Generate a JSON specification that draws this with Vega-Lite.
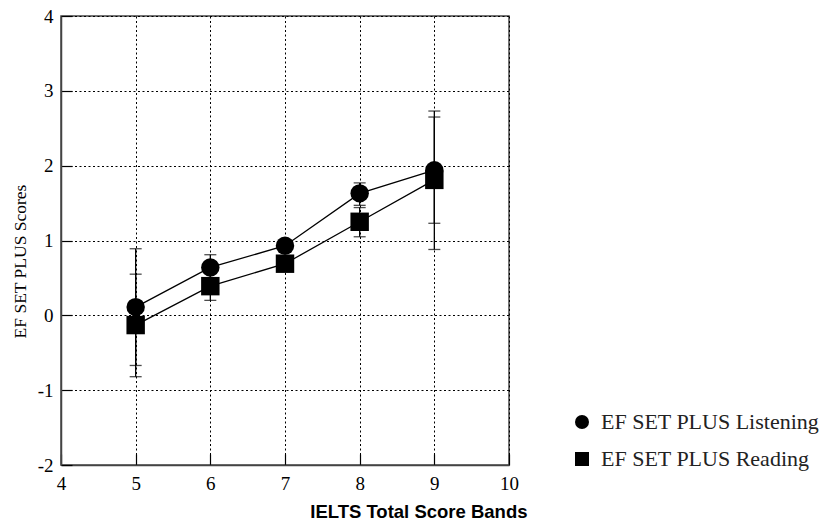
{
  "$schema": "https://vega.github.io/schema/vega-lite/v6.json",
  "autosize": "none",
  "width": 448,
  "height": 449,
  "padding": {"left": 61, "top": 16, "right": 323, "bottom": 56},
  "background": "white",
  "data": {
    "values": [
      {"series": "EF SET PLUS Listening", "band": 5, "score": 0.11, "lo": -0.67, "hi": 0.89},
      {"series": "EF SET PLUS Listening", "band": 6, "score": 0.64, "lo": 0.46, "hi": 0.81},
      {"series": "EF SET PLUS Listening", "band": 7, "score": 0.93, "lo": 0.85, "hi": 1.01},
      {"series": "EF SET PLUS Listening", "band": 8, "score": 1.63, "lo": 1.47, "hi": 1.77},
      {"series": "EF SET PLUS Listening", "band": 9, "score": 1.94, "lo": 1.23, "hi": 2.65},
      {"series": "EF SET PLUS Reading", "band": 5, "score": -0.13, "lo": -0.82, "hi": 0.55},
      {"series": "EF SET PLUS Reading", "band": 6, "score": 0.39, "lo": 0.2, "hi": 0.56},
      {"series": "EF SET PLUS Reading", "band": 7, "score": 0.69, "lo": 0.61, "hi": 0.77},
      {"series": "EF SET PLUS Reading", "band": 8, "score": 1.25, "lo": 1.05, "hi": 1.44},
      {"series": "EF SET PLUS Reading", "band": 9, "score": 1.81, "lo": 0.88, "hi": 2.73}
    ]
  },
  "encoding": {
    "x": {
      "field": "band", "type": "quantitative",
      "scale": {"domain": [4, 10], "nice": false, "zero": false},
      "axis": {
        "values": [4, 5, 6, 7, 8, 9, 10],
        "title": "IELTS Total Score Bands",
        "titleFont": "Liberation Sans", "titleFontWeight": "bold", "titleFontSize": 18.5,
        "titleColor": "black",
        "titleAlign": "right", "titleAnchor": null,
        "titleX": 466, "titleY": 52, "titleBaseline": "alphabetic",
        "labelPadding": 20
      }
    },
    "y": {
      "field": "score", "type": "quantitative",
      "scale": {"domain": [-2, 4], "nice": false, "zero": false},
      "axis": {
        "values": [-2, -1, 0, 1, 2, 3, 4],
        "labelExpr": "replace(datum.label, '−', '-')",
        "title": "EF SET PLUS Scores",
        "titleFont": "Liberation Serif", "titleFontWeight": "normal", "titleFontSize": 17.5,
        "titleColor": "black",
        "titleX": -50, "titleY": 245, "titleBaseline": "top",
        "labelPadding": 19
      }
    }
  },
  "layer": [
    {
      "mark": {"type": "line", "color": "black", "strokeWidth": 1.3},
      "encoding": {"detail": {"field": "series"}}
    },
    {
      "mark": {"type": "rule", "color": "black", "strokeWidth": 1.3},
      "encoding": {"y": {"field": "lo", "type": "quantitative"}, "y2": {"field": "hi"}}
    },
    {
      "mark": {"type": "tick", "orient": "horizontal", "color": "black", "size": 12, "thickness": 1.3},
      "encoding": {"y": {"field": "lo", "type": "quantitative"}}
    },
    {
      "mark": {"type": "tick", "orient": "horizontal", "color": "black", "size": 12, "thickness": 1.3},
      "encoding": {"y": {"field": "hi", "type": "quantitative"}}
    },
    {
      "mark": {"type": "point", "filled": true, "size": 340, "color": "black", "opacity": 1},
      "encoding": {
        "shape": {
          "field": "series", "type": "nominal",
          "scale": {"domain": ["EF SET PLUS Listening", "EF SET PLUS Reading"], "range": ["circle", "square"]},
          "legend": {
            "title": null, "orient": "none", "legendX": 510, "legendY": 395,
            "symbolSize": 196, "symbolFillColor": "black", "symbolStrokeColor": "black", "symbolOpacity": 1,
            "labelFont": "Liberation Serif", "labelFontSize": 22, "labelColor": "#222",
            "labelOffset": 8, "rowPadding": 15, "labelLimit": 400,
            "encode": {"symbols": {"update": {"size": {"value": 196}}}}
          }
        }
      }
    }
  ],
  "config": {
    "view": {"stroke": "#444", "strokeWidth": 1.5},
    "axis": {
      "domainColor": "#444", "domainWidth": 1.5,
      "tickColor": "black", "tickSize": -11, "tickWidth": 1.2,
      "grid": true, "gridColor": "black", "gridDash": [2, 2.5], "gridWidth": 1, "gridOpacity": 1,
      "labelFont": "Liberation Serif", "labelFontSize": 19, "labelColor": "black",
      "labelFlush": false, "labelOverlap": false
    }
  }
}
